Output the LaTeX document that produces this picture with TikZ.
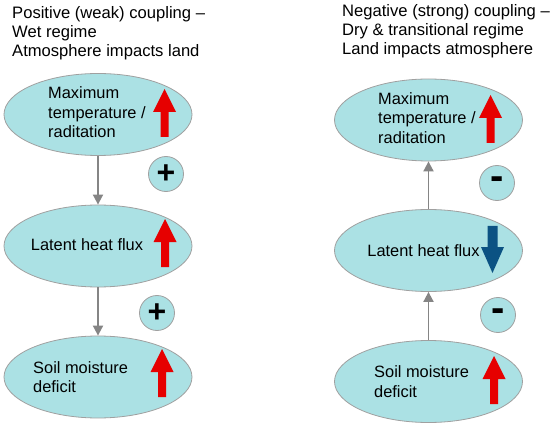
\documentclass[tikz,border=0pt]{standalone}
\usepackage{fontspec}
\setmainfont{Liberation Sans}
\usetikzlibrary{shapes.geometric,arrows.meta}
\definecolor{ellfill}{HTML}{ABE1E4}
\definecolor{ellline}{HTML}{A0A0A0}
\definecolor{conn}{HTML}{858585}
\definecolor{upred}{HTML}{E60000}
\definecolor{downblue}{HTML}{0B5283}
\tikzset{
  blob/.style={ellipse, draw=ellline, line width=0.8pt, fill=ellfill,
    minimum width=188pt, minimum height=82pt, inner sep=0pt},
  sign/.style={circle, draw=ellline, line width=0.8pt, fill=ellfill,
    minimum size=35pt, inner sep=0pt},
  lbl/.style={align=left, inner sep=0pt, font=\fontsize{16.4}{19.5}\selectfont},
  ttl/.style={align=left, inner sep=0pt, anchor=west, font=\fontsize{16.6}{19}\selectfont},
  conn/.style={draw=conn, line width=1.8pt, -{Triangle[width=10pt,length=10pt]}},
  uparr/.pic={\fill[upred] (0,0) -- (11.5,23) -- (4,23) -- (4,48) -- (-4,48) -- (-4,23) -- (-11.5,23) -- cycle;},
  downarr/.pic={\fill[downblue] (0,0) -- (11.5,-26) -- (5,-26) -- (5,-47) -- (-5,-47) -- (-5,-26) -- (-11.5,-26) -- cycle;}
}
\begin{document}
\begin{tikzpicture}[x=1pt,y=-1pt]
\useasboundingbox (0,0) rectangle (550,428);
% titles
\node[ttl] (tl) at (12,33) {Positive (weak) coupling --\\Wet regime\\Atmosphere impacts land};
\node[ttl] (tr) at (342,31) {Negative (strong) coupling --\\Dry \& transitional regime\\Land impacts atmosphere};
% left column
\node[blob] (lt) at (98,114.5) {};
\node[blob] (ll) at (98,246) {};
\node[blob] (ls) at (98,377) {};
\node[lbl, anchor=west] (ltt) at (48,112.5) {Maximum\\temperature /\\raditation};
\node[lbl] (llt) at (87,245) {Latent heat flux};
\node[lbl, anchor=west] (lst) at (33,377) {Soil moisture\\deficit};
\pic at (164.5,89) {uparr};
\pic at (165,219) {uparr};
\pic at (162,349) {uparr};
\draw[conn] (lt.south) -- (ll.north);
\draw[conn] (ll.south) -- (ls.north);
\node[sign, font=\bfseries\fontsize{32}{32}\selectfont] (p1) at (166,174) {+};
\node[sign, font=\bfseries\fontsize{32}{32}\selectfont] (p2) at (157,313) {+};
% right column
\node[blob] (rt) at (428.5,120) {};
\node[blob] (rl) at (428.5,250.5) {};
\node[blob] (rs) at (428.5,381.5) {};
\node[lbl, anchor=west] (rtt) at (378,118) {Maximum\\temperature /\\raditation};
\node[lbl] (rlt) at (423.5,251) {Latent heat flux};
\node[lbl, anchor=west] (rst) at (374,381.5) {Soil moisture\\deficit};
\pic at (490.5,95) {uparr};
\pic at (492.5,273) {downarr};
\pic at (494,356) {uparr};
\draw[conn] (rl.north) -- (rt.south);
\draw[conn] (rs.north) -- (rl.south);
\node[sign, font=\bfseries\fontsize{40}{40}\selectfont] (m1) at (497,183) {-};
\node[sign, font=\bfseries\fontsize{40}{40}\selectfont] (m2) at (498,315) {-};
\end{tikzpicture}
\end{document}
